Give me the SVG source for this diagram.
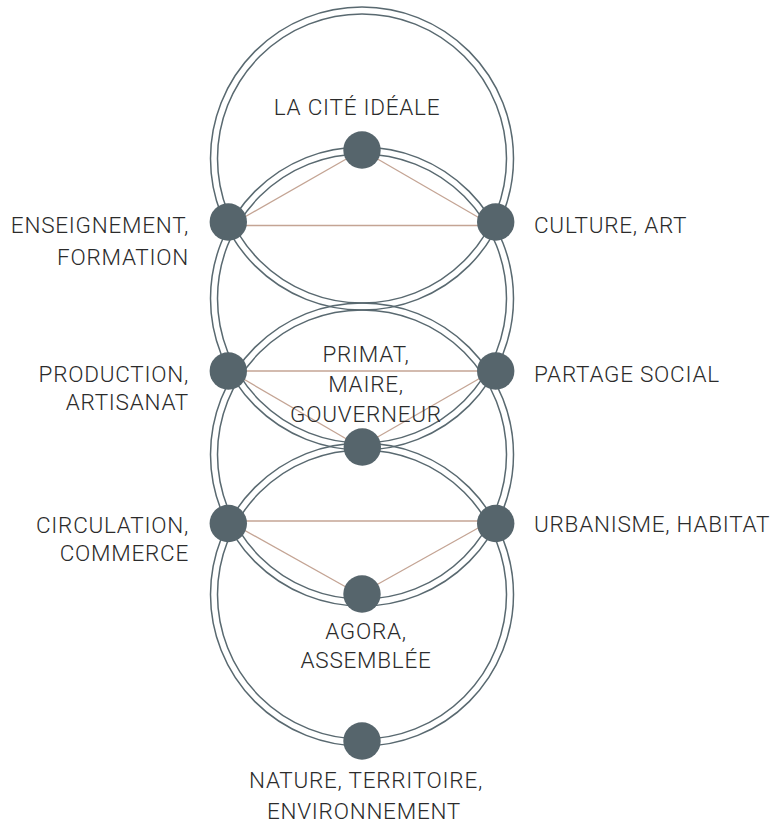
<svg xmlns="http://www.w3.org/2000/svg" width="773" height="825" viewBox="0 0 773 825">
<style>
.ring{fill:none;stroke:#596970;stroke-width:1.5}
.link{stroke:#c4a494;stroke-width:1.3;fill:none}
.node{fill:#56656c}
.lbl{font-family:Roboto,"Liberation Sans",Arial,sans-serif;font-weight:300;font-size:22.5px;letter-spacing:0.75px;fill:#2b2b2b;}
.m{text-anchor:middle}
.e{text-anchor:end}
</style>
<rect width="773" height="825" fill="#fff"/>
<g id="rings">
<circle class="ring" cx="362" cy="158.5" r="151.5"/>
<circle class="ring" cx="362" cy="158.5" r="144.5"/>
<circle class="ring" cx="362" cy="298.5" r="151.5"/>
<circle class="ring" cx="362" cy="298.5" r="144.5"/>
<circle class="ring" cx="362" cy="454.5" r="151.5"/>
<circle class="ring" cx="362" cy="454.5" r="144.5"/>
<circle class="ring" cx="362" cy="594.5" r="151.5"/>
<circle class="ring" cx="362" cy="594.5" r="144.5"/>
</g>
<g id="connectors">
<line class="link" x1="362" y1="150" x2="229" y2="226"/>
<line class="link" x1="362" y1="150" x2="495" y2="227"/>
<line class="link" x1="228" y1="225.5" x2="496" y2="225.5"/>
<line class="link" x1="228" y1="371" x2="496" y2="371"/>
<line class="link" x1="228" y1="370" x2="362" y2="448"/>
<line class="link" x1="496" y1="369" x2="362" y2="446"/>
<line class="link" x1="228" y1="521" x2="496" y2="521"/>
<line class="link" x1="228" y1="521" x2="362" y2="596"/>
<line class="link" x1="496" y1="518" x2="362" y2="593"/>
</g>
<g id="node-cite">
<circle class="node" cx="362" cy="150" r="18.7"/>
<text class="lbl m" x="357" y="115">LA CITÉ IDÉALE</text>
</g>
<g id="node-enseignement">
<circle class="node" cx="228.3" cy="222" r="18.7"/>
<text class="lbl e" x="189" y="233">ENSEIGNEMENT,</text>
<text class="lbl e" x="189" y="265">FORMATION</text>
</g>
<g id="node-culture">
<circle class="node" cx="495.7" cy="222" r="18.7"/>
<text class="lbl" x="534" y="233">CULTURE, ART</text>
</g>
<g id="node-production">
<circle class="node" cx="228.3" cy="371" r="18.7"/>
<text class="lbl e" x="189" y="382">PRODUCTION,</text>
<text class="lbl e" x="189" y="410">ARTISANAT</text>
</g>
<g id="node-partage">
<circle class="node" cx="495.7" cy="371" r="18.7"/>
<text class="lbl" x="534" y="382">PARTAGE SOCIAL</text>
</g>
<g id="node-primat">
<circle class="node" cx="362.3" cy="447" r="18.7"/>
<text class="lbl m" x="366" y="362">PRIMAT,</text>
<text class="lbl m" x="366" y="392">MAIRE,</text>
<text class="lbl m" x="366" y="422">GOUVERNEUR</text>
</g>
<g id="node-circulation">
<circle class="node" cx="228.3" cy="523.5" r="18.7"/>
<text class="lbl e" x="189" y="533">CIRCULATION,</text>
<text class="lbl e" x="189" y="561">COMMERCE</text>
</g>
<g id="node-urbanisme">
<circle class="node" cx="495.7" cy="523.5" r="18.7"/>
<text class="lbl" x="534" y="532">URBANISME, HABITAT</text>
</g>
<g id="node-agora">
<circle class="node" cx="362" cy="594" r="18.7"/>
<text class="lbl m" x="366" y="639">AGORA,</text>
<text class="lbl m" x="366" y="668">ASSEMBLÉE</text>
</g>
<g id="node-nature">
<circle class="node" cx="362" cy="741" r="18.7"/>
<text class="lbl m" x="366" y="788">NATURE, TERRITOIRE,</text>
<text class="lbl m" x="364" y="819">ENVIRONNEMENT</text>
</g>
</svg>
